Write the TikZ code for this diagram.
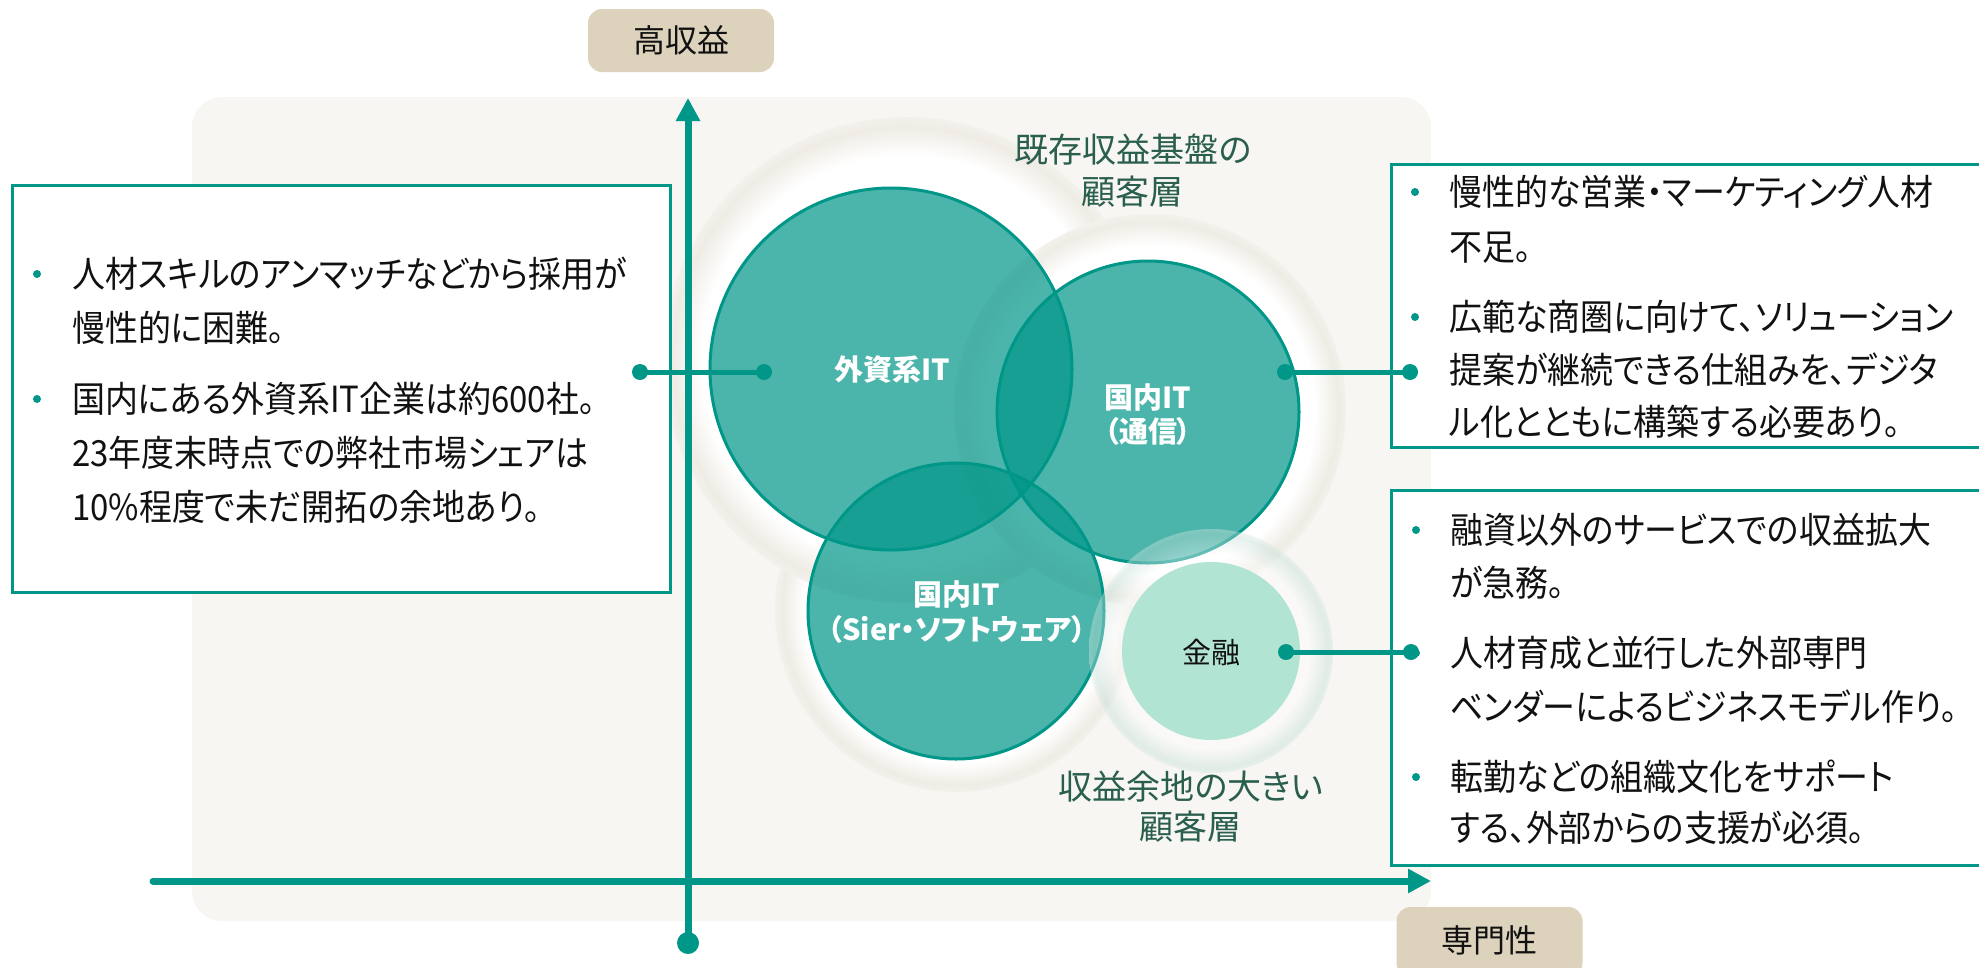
\documentclass[tikz,border=0pt]{standalone}
\usepackage{fontspec}
\setmainfont{Noto Sans CJK JP}[RawFeature={+palt}]
\newfontfamily\condjp{Noto Sans CJK JP}[RawFeature={+palt}, FakeStretch=0.915]
\usetikzlibrary{arrows.meta}
\definecolor{tealc}{HTML}{009688}
\definecolor{bgc}{HTML}{F7F6F2}
\definecolor{tanc}{HTML}{DDD2BB}
\definecolor{mintc}{HTML}{B2E4D4}
\definecolor{lblc}{HTML}{2A5E4E}
\definecolor{txtc}{HTML}{111111}
\definecolor{haloedge}{HTML}{EFECE5}
\definecolor{halorim}{HTML}{F3F1EC}
\definecolor{mintedge}{HTML}{BFDCD5}
\definecolor{mintrim}{HTML}{D6E8E3}
\pgfdeclareradialshading{haloshade}{\pgfpoint{0bp}{0bp}}{color(0bp)=(white); color(21bp)=(white); color(24bp)=(haloedge); color(25bp)=(halorim); color(50bp)=(halorim)}
\pgfdeclareradialshading{haloshadeD}{\pgfpoint{0bp}{0bp}}{color(0bp)=(white); color(20bp)=(white); color(24bp)=(mintedge); color(25bp)=(mintrim); color(50bp)=(mintrim)}
\tikzset{
  bub/.style={circle, inner sep=0pt, fill=tealc, fill opacity=0.7, draw=tealc, draw opacity=1, line width=3pt},
  halo/.style={circle, inner sep=0pt, shade, shading=haloshade},
  axisline/.style={draw=tealc, line width=7pt},
  conn/.style={draw=tealc, line width=5pt},
  infobox/.style={draw=tealc, line width=3pt, fill=white, anchor=north west, inner sep=0pt},
  tagbox/.style={fill=tanc, rounded corners=14pt, inner sep=0pt, minimum width=186pt, minimum height=63pt, font=\fontsize{32}{36}\selectfont, text=txtc},
  body/.style={anchor=west, inner sep=0pt, font=\condjp\fontsize{36}{40}\selectfont, text=txtc, text height=31.7pt, text depth=4.3pt},
  lbl/.style={anchor=center, inner sep=0pt, font=\fontsize{34}{38}\selectfont, text=lblc, text height=29.9pt, text depth=4.1pt},
  bubl/.style={anchor=center, inner sep=0pt, font=\bfseries\fontsize{29}{33}\selectfont, text=white, text height=25.5pt, text depth=3.5pt},
  bullet/.style={circle, fill=tealc, inner sep=0pt, minimum size=8pt},
  dotc/.style={circle, fill=tealc, inner sep=0pt, minimum size=16pt}
}
\begin{document}
\begin{tikzpicture}[x=1pt, y=-1pt]
\useasboundingbox (0,0) rectangle (1979,967);
% background panel
\fill[bgc, rounded corners=30pt] (192,97) rectangle (1431,921);
% halos
\node[halo, minimum size=362pt] (hC) at (956,611) {};
\node[halo, minimum size=486pt] (hA) at (906,360) {};
\node[halo, minimum size=392pt] (hB) at (1150,410) {};
% tags
\node[tagbox] (tagY) at (681,40.5) {高収益};
\node[tagbox, minimum height=70pt] (tagX) at (1489.5,942) {};
\node[anchor=center, inner sep=0pt, font=\fontsize{32}{36}\selectfont, text=txtc] (tagXt) at (1489.5,940) {専門性};
% axes
\coordinate (yb) at (688,943);
\coordinate (yt) at (688,98);
\coordinate (xl) at (153,881);
\coordinate (xr) at (1431,881);
\draw[axisline, -{Triangle[length=23pt,width=23pt]}] (yb) -- (yt);
\node[circle, fill=tealc, inner sep=0pt, minimum size=22pt] (ybd) at (yb) {};
\draw[axisline, line cap=round, -{Triangle[length=23pt,width=23pt]}] (xl) -- (xr);
% circles
\node[bub, minimum size=296pt] (C) at (956,611) {};
\node[bub, minimum size=362pt] (A) at (891,369) {};
\node[bub, minimum size=302pt] (B) at (1148,412) {};
\node[circle, inner sep=0pt, shade, shading=haloshadeD, opacity=0.4, minimum size=244pt] (hD) at (1211,651) {};
\node[circle, inner sep=0pt, fill=mintc, minimum size=178pt] (D) at (1211,651) {};
% info boxes
\node[infobox, minimum width=658pt, minimum height=407pt] (LB) at (11,184) {};
\node[infobox, minimum width=620pt, minimum height=283pt] (RT) at (1390,163) {};
\node[infobox, minimum width=620pt, minimum height=375pt] (RB) at (1390,489) {};
% connectors
\coordinate (l1) at (640,372);
\coordinate (l2) at (764,372);
\coordinate (r1) at (1285,372);
\coordinate (r2) at (1410,372);
\coordinate (k1) at (1286,652);
\coordinate (k2) at (1411,652);
\draw[conn] (l1) -- (l2);
\draw[conn] (r1) -- (r2);
\draw[conn] (k1) -- (k2);
\foreach \p in {l1,l2,r1,r2,k1,k2} \node[dotc] at (\p) {};
% circle labels
\node[bubl] (tA) at (892,369) {外資系IT};
\node[bubl] (tB1) at (1148,397) {国内IT};
\node[bubl] (tB2) at (1148,431) {（通信）};
\node[bubl] (tC1) at (957,594) {国内IT};
\node[bubl] (tC2) at (957,629) {（Sier・ソフトウェア）};
\node[anchor=center, inner sep=0pt, font=\fontsize{29}{33}\selectfont, text=txtc] (tD) at (1211,652) {金融};
% group labels
\node[lbl] (g1a) at (1133,150) {既存収益基盤の};
\node[lbl] (g1b) at (1132,192) {顧客層};
\node[lbl] (g2a) at (1191,787) {収益余地の大きい};
\node[lbl] (g2b) at (1190,827) {顧客層};
% left box text
\node[bullet] (lb1) at (37,274) {};
\node[bullet] (lb2) at (37,399) {};
\node[body] (L1) at (72,274) {人材スキルのアンマッチなどから採用が};
\node[body] (L2) at (72,328) {慢性的に困難。};
\node[body] (L3) at (72,399) {国内にある外資系IT企業は約600社。};
\node[body] (L4) at (72,453) {23年度末時点での弊社市場シェアは};
\node[body] (L5) at (72,507) {10\%程度で未だ開拓の余地あり。};
% right top text
\node[bullet] (rb1) at (1415,192) {};
\node[bullet] (rb2) at (1415,317) {};
\node[body] (R1) at (1449,192) {慢性的な営業・マーケティング人材};
\node[body] (R2) at (1449,247) {不足。};
\node[body] (R3) at (1449,317) {広範な商圏に向けて、ソリューション};
\node[body] (R4) at (1449,370) {提案が継続できる仕組みを、デジタ};
\node[body] (R5) at (1449,422) {ル化とともに構築する必要あり。};
% right bottom text
\node[bullet] (sb1) at (1416,530) {};
\node[bullet] (sb2) at (1416,653) {};
\node[bullet] (sb3) at (1416,777) {};
\node[body] (S1) at (1450,530) {融資以外のサービスでの収益拡大};
\node[body] (S2) at (1450,583) {が急務。};
\node[body] (S3) at (1450,653) {人材育成と並行した外部専門};
\node[body] (S4) at (1450,707) {ベンダーによるビジネスモデル作り。};
\node[body] (S5) at (1450,777) {転勤などの組織文化をサポート};
\node[body] (S6) at (1450,828) {する、外部からの支援が必須。};
\end{tikzpicture}
\end{document}
